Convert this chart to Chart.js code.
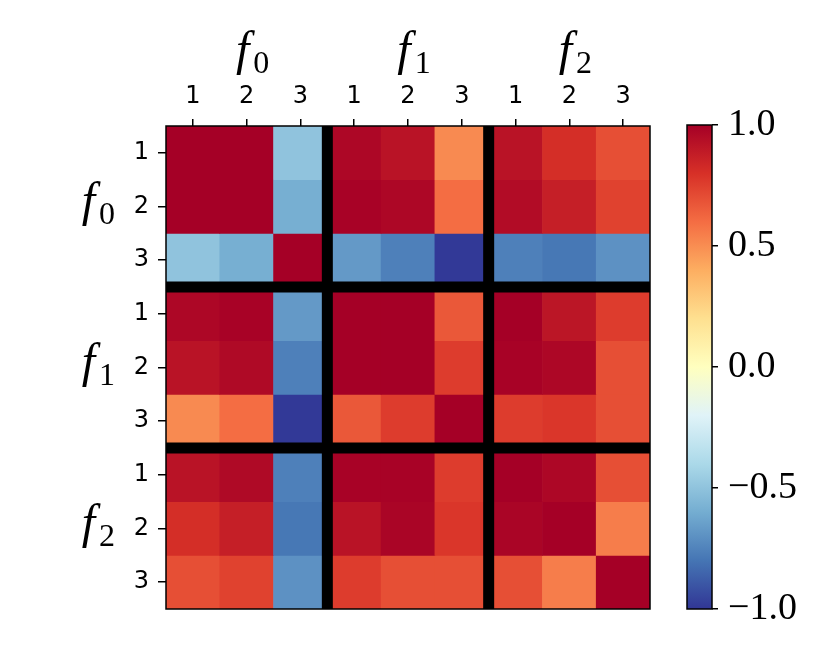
<!DOCTYPE html>
<html>
<head>
<meta charset="utf-8">
<script src="https://cdn.jsdelivr.net/npm/chart.js@4.4.1/dist/chart.umd.min.js"></script>
<style>
  body { margin: 0; background: #fff; }
  #wrap { position: relative; width: 830px; height: 659px; }
  #main { position: absolute; left: 0; top: 0; width: 830px; height: 659px; }
  #cbar { position: absolute; left: 600px; top: 0; width: 230px; height: 659px; }
</style>
</head>
<body>
<div id="wrap">
  <div id="main"><canvas id="heatmap"></canvas></div>
  <div id="cbar"><canvas id="colorbar"></canvas></div>
</div>
<script>
// column / row tick labels and group names
const colLabels = ['1', '2', '3', '1', '2', '3', '1', '2', '3'];
const rowLabels = ['1', '2', '3', '1', '2', '3', '1', '2', '3'];
const groupNames = ['0', '1', '2'];
const groupBounds = [3, 6];
const cbTicks = [-1, -0.5, 0, 0.5, 1];

// correlation values (rows top to bottom)
const corr = [
  [1.00, 1.00, -0.50, 0.97, 0.92, 0.51, 0.92, 0.81, 0.70],
  [1.00, 1.00, -0.59, 0.99, 0.97, 0.60, 0.95, 0.87, 0.74],
  [-0.50, -0.59, 1.00, -0.67, -0.76, -0.99, -0.76, -0.79, -0.70],
  [0.97, 0.99, -0.67, 1.00, 1.00, 0.67, 1.00, 0.91, 0.76],
  [0.92, 0.96, -0.76, 1.00, 1.00, 0.76, 0.99, 0.97, 0.70],
  [0.51, 0.60, -0.99, 0.67, 0.76, 1.00, 0.76, 0.78, 0.70],
  [0.92, 0.96, -0.76, 0.99, 0.99, 0.76, 1.00, 0.97, 0.70],
  [0.81, 0.87, -0.79, 0.92, 0.98, 0.78, 0.98, 1.00, 0.55],
  [0.70, 0.74, -0.70, 0.76, 0.70, 0.70, 0.70, 0.55, 1.00]
];

// RdYlBu reversed, 11 stops from -1 to 1
const cmapStops = [
  [49, 54, 149], [69, 117, 180], [116, 173, 209], [171, 217, 233], [224, 243, 248],
  [255, 255, 191], [254, 224, 144], [253, 174, 97], [244, 109, 67], [215, 48, 39], [165, 0, 38]
];

const cmap = (v) => {
  const t = Math.max(0, Math.min(1, (v + 1) / 2)) * (cmapStops.length - 1);
  const i = Math.min(Math.floor(t), cmapStops.length - 2);
  const f = t - i;
  const a = cmapStops[i], b = cmapStops[i + 1];
  const c = a.map((x, k) => Math.round(x + (b[k] - x) * f));
  return `rgb(${c[0]}, ${c[1]}, ${c[2]})`;
};

const serif = '"Liberation Serif", "DejaVu Serif", serif';
const sans = '"DejaVu Sans", sans-serif';

// frame around the plot area
const framePlugin = {
  id: 'frame',
  afterDraw(chart) {
    const { ctx, chartArea: a } = chart;
    ctx.save();
    ctx.strokeStyle = '#000';
    ctx.lineWidth = 1.5;
    ctx.strokeRect(a.left, a.top, a.right - a.left, a.bottom - a.top);
    ctx.restore();
  }
};

// thick black lines between the groups and the f_i labels
const groupPlugin = {
  id: 'groups',
  afterDatasetsDraw(chart) {
    const { ctx, chartArea: a, scales } = chart;
    ctx.save();
    ctx.fillStyle = '#000';
    groupBounds.forEach(b => {
      const x = (scales.x.getPixelForValue(b - 1) + scales.x.getPixelForValue(b)) / 2;
      ctx.fillRect(x - 5.5, a.top, 11, a.bottom - a.top);
      const y = scales.y.getPixelForValue(b);
      ctx.fillRect(a.left, y - 5.5, a.right - a.left, 11);
    });
    ctx.restore();
  },
  afterDraw(chart) {
    const { ctx, scales } = chart;
    const drawLabel = (sub, x, y, align) => {
      ctx.font = `italic 48px ${serif}`;
      const wf = ctx.measureText('f').width;
      ctx.font = `32px ${serif}`;
      const ws = ctx.measureText(sub).width;
      const left = align === 'right' ? x - wf - ws - 4 : x - (wf + ws + 4) / 2;
      ctx.font = `italic 48px ${serif}`;
      ctx.fillText('f', left, y);
      ctx.font = `32px ${serif}`;
      ctx.fillText(sub, left + wf + 4, y + 8);
    };
    ctx.save();
    ctx.fillStyle = '#000';
    ctx.textBaseline = 'alphabetic';
    ctx.textAlign = 'left';
    groupNames.forEach((g, i) => {
      const cx = scales.x.getPixelForValue(i * 3 + 1);
      drawLabel(g, cx + 6, 65, 'center');
      const cy = scales.y.getPixelForValue(i * 3 + 1.5);
      drawLabel(g, 115, cy + 9, 'right');
    });
    ctx.restore();
  }
};

const datasets = corr.map((row, r) => ({
  label: 'row ' + r,
  data: row.map(() => [r, r + 1]),
  backgroundColor: row.map(v => cmap(v)),
  borderWidth: 0,
  barPercentage: 1,
  categoryPercentage: 1,
  grouped: false
}));

new Chart(document.getElementById('heatmap'), {
  type: 'bar',
  data: { labels: colLabels.map((l, i) => i), datasets },
  options: {
    responsive: true,
    maintainAspectRatio: false,
    animation: false,
    layout: { padding: { left: 0, top: 0, right: 180, bottom: 50 } },
    plugins: { legend: { display: false }, tooltip: { enabled: false } },
    scales: {
      x: {
        position: 'top',
        offset: true,
        grid: { offset: false, drawOnChartArea: false, tickLength: 7, color: '#000', lineWidth: 1.5 },
        border: { display: false },
        ticks: {
          color: '#000',
          font: { family: sans, size: 24 },
          padding: 8,
          maxRotation: 0,
          callback: (v, i) => colLabels[i]
        },
        afterFit: (scale) => { scale.height = 126; }
      },
      y: {
        type: 'linear',
        min: 0,
        max: 9,
        reverse: true,
        grid: { drawOnChartArea: false, tickLength: 8, color: '#000', lineWidth: 1.5 },
        border: { display: false },
        afterBuildTicks: (scale) => {
          scale.ticks = rowLabels.map((l, i) => ({ value: i + 0.5 }));
        },
        ticks: {
          color: '#000',
          font: { family: sans, size: 24 },
          padding: 9,
          callback: (v, i) => rowLabels[i]
        },
        afterFit: (scale) => { scale.width = 166; }
      }
    }
  },
  plugins: [groupPlugin, framePlugin]
});

new Chart(document.getElementById('colorbar'), {
  type: 'bar',
  data: {
    labels: ['cb'],
    datasets: [{
      data: [[-1, 1]],
      borderWidth: 0,
      barPercentage: 1,
      categoryPercentage: 1,
      backgroundColor: (context) => {
        const area = context.chart.chartArea;
        if (!area) return null;
        const g = context.chart.ctx.createLinearGradient(0, area.bottom, 0, area.top);
        cmapStops.forEach((c, i) => g.addColorStop(i / (cmapStops.length - 1), `rgb(${c[0]}, ${c[1]}, ${c[2]})`));
        return g;
      }
    }]
  },
  options: {
    responsive: true,
    maintainAspectRatio: false,
    animation: false,
    layout: { padding: { left: 87, top: 125, right: 0, bottom: 50 } },
    plugins: { legend: { display: false }, tooltip: { enabled: false } },
    scales: {
      x: { display: false },
      y: {
        position: 'right',
        min: -1,
        max: 1,
        grid: { drawOnChartArea: false, tickLength: 6, color: '#000', lineWidth: 1.5 },
        border: { display: false },
        afterBuildTicks: (scale) => {
          scale.ticks = cbTicks.map(v => ({ value: v }));
        },
        ticks: {
          color: '#000',
          font: { family: serif, size: 38 },
          padding: 10,
          callback: (v) => (v < 0 ? '\u2212' : '') + Math.abs(v).toFixed(1)
        },
        afterFit: (scale) => { scale.width = 118; }
      }
    }
  },
  plugins: [framePlugin]
});
</script>
</body>
</html>
